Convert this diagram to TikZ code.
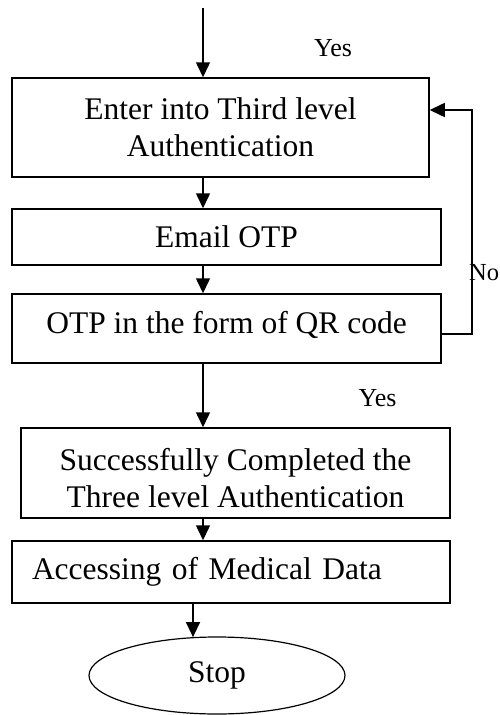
\documentclass[tikz,border=0pt]{standalone}
\usepackage{fontspec}
\setmainfont{Liberation Serif}
\usetikzlibrary{arrows.meta,shapes.geometric}
\begin{document}
\begin{tikzpicture}[x=1pt,y=-1pt,
  box/.style={draw,line width=1.5pt,inner sep=0pt,align=center,font=\fontsize{31.5}{37}\selectfont},
  txt/.style={inner sep=0pt,align=center,font=\fontsize{31.5}{37}\selectfont},
  arr/.style={line width=1.5pt,-{Triangle[length=15pt,width=14pt]}},
  lab/.style={font=\fontsize{26}{30}\selectfont,inner sep=0pt}]
\useasboundingbox (0,0) rectangle (500,715);
\node[box,minimum width=417pt,minimum height=99pt] (b1) at (220.5,127.5) {Enter into Third level\\Authentication};
\node[box,minimum width=429pt,minimum height=56pt] (b2) at (226.5,237) {Email OTP};
\node[box,minimum width=429pt,minimum height=69pt] (b3) at (226.5,328.5) {};
\node[txt] (t3) at (226.5,324.5) {OTP in the form of QR code};
\node[box,minimum width=429pt,minimum height=90pt] (b4) at (235.5,473) {};
\node[txt] (t4) at (235.5,478) {Successfully Completed the\\Three level Authentication};
\node[box,minimum width=438pt,minimum height=62pt,text width=398pt,inner xsep=20pt,align=left] (b5) at (231,572) {Accessing of Medical Data};
\node[draw,ellipse,line width=1.2pt,minimum width=256pt,minimum height=77pt,inner sep=0pt,font=\fontsize{31.5}{37}\selectfont] (stop) at (217,675.5) {Stop};
\coordinate (top) at (203,8);
\coordinate (ax) at (193,0);
\coordinate (fbA) at (472,334);
\coordinate (fbB) at (472,110);
\node[lab] (yes1) at (333,48) {Yes};
\node[lab] (yes2) at (377.5,398) {Yes};
\node[lab,anchor=west,font=\fontsize{24.5}{30}\selectfont] (no) at (469,273) {No};
\draw[arr] (top) -- (top |- b1.north);
\draw[arr] (b1.south -| top) -- (b2.north -| top);
\draw[arr] (b2.south -| top) -- (b3.north -| top);
\draw[arr] (b3.south -| top) -- (b4.north -| top);
\draw[arr] (b4.south -| top) -- (b5.north -| top);
\draw[arr] (b5.south -| ax) -- ([yshift=-0.7pt]stop.north -| ax);
\draw[arr] (b3.east |- fbA) -- (fbA) -- (fbB) -- (b1.east |- fbB);
\end{tikzpicture}
\end{document}
